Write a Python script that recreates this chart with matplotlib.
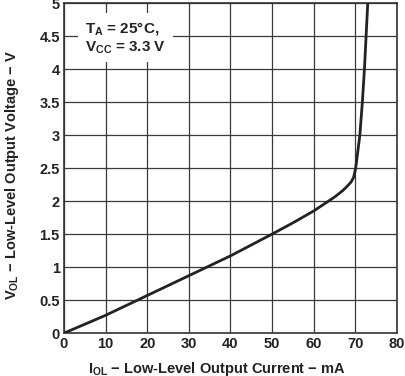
import matplotlib

matplotlib.use("Agg")
import matplotlib.pyplot as plt

plt.rcParams["font.family"] = ["Liberation Sans", "DejaVu Sans"]
plt.rcParams["mathtext.fontset"] = "custom"
plt.rcParams["mathtext.rm"] = "Liberation Sans:bold"
plt.rcParams["mathtext.default"] = "rm"

# output current (mA) vs output voltage (V)
i_ol = [0, 10, 20, 30, 40, 50, 55, 60, 65, 67, 68, 69, 69.6, 70.1, 70.6, 71.1, 71.7, 72.2, 72.6, 73.0]
v_ol = [0, 0.27, 0.57, 0.87, 1.17, 1.5, 1.67, 1.85, 2.06, 2.16, 2.22, 2.29, 2.36, 2.5, 2.75, 3.0, 3.5, 4.0, 4.5, 5.0]

x_ticks = list(range(0, 81, 10))
y_ticks = [0, 0.5, 1, 1.5, 2, 2.5, 3, 3.5, 4, 4.5, 5]
y_labels = ["0", "0.5", "1", "1.5", "2", "2.5", "3", "3.5", "4", "4.5", "5"]

fig = plt.figure(figsize=(4.05, 3.76), dpi=100)
ax = fig.add_axes([0.158, 0.114, 0.822, 0.878])

ax.plot(i_ol, v_ol, color="#222222", linewidth=2.0, zorder=3)

ax.set_xlim(0, 80)
ax.set_ylim(0, 5)
ax.set_xticks(x_ticks)
ax.set_yticks(y_ticks)
ax.set_yticklabels(y_labels)
ax.grid(True, color="#3a3a3a", linewidth=0.9)
ax.tick_params(length=0, pad=3, labelsize=10.5, colors="#222222")
for lbl in ax.get_xticklabels() + ax.get_yticklabels():
    lbl.set_fontweight("bold")
for s in ax.spines.values():
    s.set_color("#333333")
    s.set_linewidth(1.2)

ax.set_xlabel("I$_{OL}$ − Low-Level Output Current − mA", fontsize=10.5,
              fontweight="bold", color="#222222")
ax.set_ylabel("V$_{OL}$ − Low-Level Output Voltage − V", fontsize=10.5,
              fontweight="bold", color="#222222")
ax.xaxis.set_label_coords(0.46, -0.08)
ax.yaxis.set_label_coords(-0.128, 0.48)

ax.text(5.0, 4.47, "T$_A$ = 25°C,\nV$_{CC}$ = 3.3 V", fontsize=11, fontweight="bold",
        color="#222222", ha="left", va="center", linespacing=1.15, zorder=4,
        bbox=dict(facecolor="white", edgecolor="none", pad=5))

fig.savefig("out.png", dpi=100, facecolor="white")
